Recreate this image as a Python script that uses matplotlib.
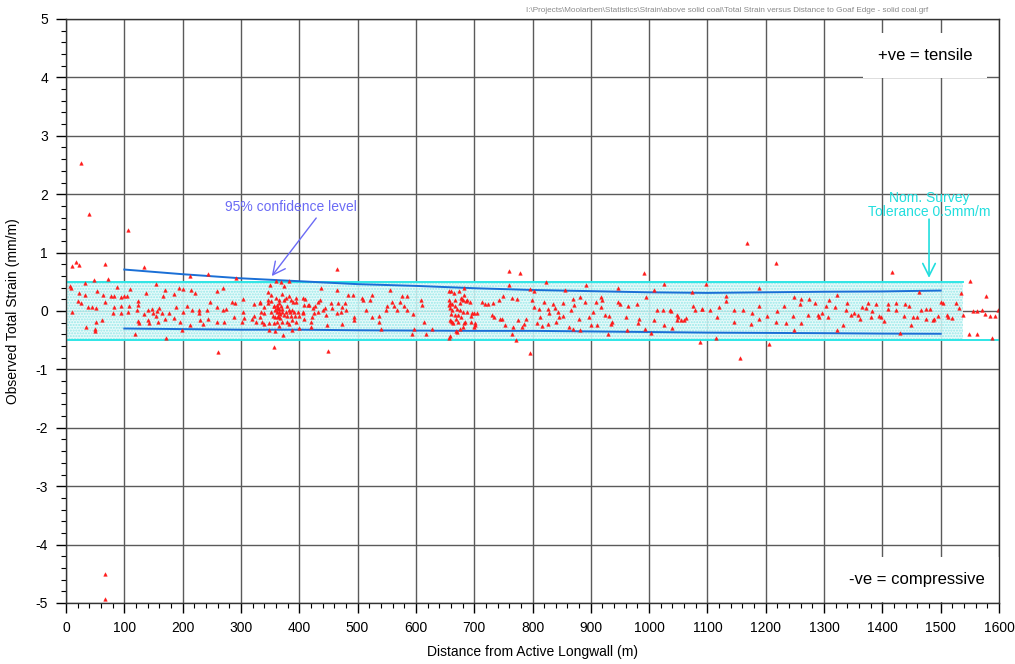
import numpy as np
import matplotlib
matplotlib.use("Agg")
import matplotlib.pyplot as plt
from matplotlib.ticker import MultipleLocator

plt.rcParams['font.family'] = ['Liberation Sans', 'DejaVu Sans']
plt.rcParams['axes.unicode_minus'] = False

# Observed strain (distance from active longwall in m, total strain in mm/m)
observations = [
    (7, 0.43), (8, 0.39), (10, 0.77), (10, -0.01), (18, 0.84), (22, 0.79), (23, 0.31), (21, 0.17),
    (25, 2.53), (25, 0.13), (32, 0.48), (33, 0.28), (34, -0.27), (38, 0.07), (39, 1.66), (45, 0.07),
    (48, 0.53), (49, -0.31), (49, -0.35), (51, 0.05), (51, -0.18), (53, 0.35), (61, -0.16), (63, 0.28),
    (67, 0.81), (67, 0.15), (67.5, -4.51), (67.5, -4.94), (72, 0.55), (78, 0.26), (81, -0.03), (82, 0.26),
    (82, 0.07), (88, 0.41), (94, 0.08), (95, 0.24), (95, -0.03), (99, 0.25), (107, -0.02), (107, 1.38),
    (108, 0.08), (110, 0.38), (105, 0.25),
    (119, -0.39), (122, 0.02), (123, 0.17), (123, 0.10), (124, -0.17), (126, -0.21), (133, 0.76),
    (134, -0.05), (138, 0.31), (140, -0.16), (140, 0.02), (142, -0.20), (147, 0.03), (150, -0.04),
    (154, 0.47), (154, -0.09), (156, 0.0), (157, -0.18), (160, 0.05), (165, -0.04), (167, 0.25),
    (169, 0.36), (170, -0.13), (171, -0.46), (177, -0.04), (186, 0.29), (186, -0.12), (188, 0.06),
    (193, 0.39), (196, -0.18), (199, -0.32), (200, 0.38), (200, -0.02), (207, 0.08), (212, -0.24),
    (213, 0.60), (214, 0.36), (216, 0.01), (221, 0.31), (228, 0.01), (228, -0.04), (229, -0.16),
    (235, -0.23), (242, 0.01), (243, 0.64), (243, -0.13), (247, 0.16), (259, 0.35), (259, 0.06),
    (259, -0.18), (260, -0.71), (269, 0.01), (270, 0.39), (271, -0.18), (275, 0.04), (285, 0.15),
    (288, -0.11), (289, 0.13), (292, 0.56), (302, -0.18), (303, 0.20), (303, -0.02), (306, -0.12),
    (319, -0.13), (322, 0.12), (322, -0.08), (326, -0.18), (332, 0.13), (333, -0.10), (339, 0.06),
    (339, -0.04),
    (332, 0.15), (334, -0.01), (336, -0.18), (340, -0.22), (346, 0.18), (347, 0.32), (347, 0.13),
    (348, -0.21), (348, -0.32), (349, 0.45), (351, 0.28), (351, 0.17), (351, -0.02), (355, -0.09),
    (356, 0.09), (357, 0.08), (357, -0.21), (357, -0.62), (359, 0.01), (359, -0.10), (359, -0.35),
    (360, 0.51), (360, 0.22), (361, 0.11), (361, -0.02), (362, -0.19), (362, 0.05), (363, 0.05),
    (363, -0.09), (364, -0.10), (365, 0.18), (365, -0.01), (365, -0.25), (366, 0.14), (366, 0.03),
    (367, -0.05), (367, -0.12), (369, 0.49), (369, 0.08), (370, -0.02), (370, 0.29), (371, 0.03),
    (371, -0.19), (372, -0.41), (373, 0.42), (374, 0.19), (374, -0.06), (377, -0.01), (378, 0.22),
    (379, -0.08), (379, -0.18), (379, 0.08), (382, 0.51), (382, 0.26), (382, 0.01), (382, -0.22),
    (384, -0.01), (385, 0.18), (385, -0.09), (387, -0.33), (388, 0.02), (388, -0.16), (390, 0.15),
    (391, -0.02), (393, -0.09), (394, 0.22), (395, 0.15), (395, -0.19), (397, -0.01), (399, -0.09),
    (399, -0.29), (406, -0.01),
    (407, -0.04), (408, -0.13), (410, 0.21), (416, 0.10), (422, -0.10), (425, -0.04), (433, 0.16),
    (433, -0.01), (407, 0.22), (408, 0.10), (415, 0.10), (421, -0.18), (421, -0.28), (424, 0.05),
    (427, 0.08), (435, 0.19), (437, 0.39), (441, 0.02), (445, 0.05), (446, -0.07), (447, -0.24),
    (450, -0.68), (455, 0.14), (457, 0.05), (464, 0.72), (464, 0.36), (464, -0.03), (467, 0.13),
    (472, -0.01), (474, 0.06), (474, -0.23), (479, 0.13), (481, 0.02), (484, 0.28), (493, 0.28),
    (494, -0.10), (494, -0.16), (507, 0.22), (510, 0.18), (515, 0.02), (521, 0.18), (525, 0.27),
    (525, -0.10), (537, -0.09), (537, -0.18), (540, -0.30), (548, 0.02), (551, 0.08), (555, 0.36),
    (559, 0.16), (562, 0.09), (567, 0.02), (573, 0.16), (576, 0.25), (580, 0.08), (585, 0.26),
    (585, 0.01), (594, -0.40), (595, -0.05), (597, -0.30), (608, 0.18), (610, 0.10), (614, -0.18),
    (618, -0.40), (628, -0.31),
    (656, -0.46), (656, 0.10), (657, 0.34), (657, 0.18), (658, 0.14), (658, 0.05), (658, -0.15),
    (659, -0.43), (661, 0.35), (661, -0.05), (661, -0.17), (662, 0.12), (662, 0.02), (662, -0.18),
    (663, -0.21), (665, 0.31), (667, 0.09), (667, -0.06), (667, 0.19), (668, -0.14), (669, -0.35),
    (671, 0.03), (671, -0.36), (672, -0.06), (673, -0.19), (674, 0.35), (675, 0.01), (675, -0.31),
    (676, 0.13), (677, 0.22), (677, -0.10), (679, 0.20), (681, 0.18), (681, -0.02), (681, -0.27),
    (682, 0.28), (683, 0.39), (683, -0.21), (684, -0.18), (686, 0.17), (687, -0.01), (688, 0.19),
    (693, 0.16), (694, -0.08), (695, -0.19), (697, -0.03), (699, -0.04), (699, -0.28), (701, -0.21),
    (702, -0.24), (705, -0.03),
    (714, 0.16), (718, 0.12), (724, 0.12), (731, -0.07), (733, 0.13), (734, -0.10), (743, 0.19),
    (745, -0.13), (747, -0.14), (749, 0.26), (753, -0.24), (759, 0.69), (760, 0.45), (764, 0.22),
    (764, -0.40), (767, -0.28), (772, -0.50), (773, 0.20), (775, -0.16), (778, 0.65), (782, -0.28),
    (786, -0.23), (789, -0.13), (795, -0.72), (796, 0.38),
    (802, 0.35), (799, 0.18), (803, 0.06), (808, -0.20), (811, 0.03), (813, -0.11), (816, -0.26),
    (819, 0.16), (823, 0.49), (826, 0.03), (827, -0.23), (829, -0.03), (836, 0.12), (839, 0.05),
    (840, -0.18), (843, -0.01), (845, -0.11), (853, 0.14), (853, -0.09), (856, 0.36), (862, -0.27),
    (866, 0.02), (869, 0.20), (870, -0.31), (871, 0.10), (879, -0.13), (881, -0.33), (882, 0.24),
    (890, 0.16), (892, 0.45), (897, -0.10), (900, -0.24), (903, -0.01), (909, 0.16), (911, -0.24),
    (918, 0.24), (918, 0.06), (920, 0.19), (924, -0.07), (929, -0.39), (932, -0.09), (935, -0.23),
    (937, -0.18), (946, 0.39), (947, 0.16), (950, 0.12), (961, -0.10), (962, -0.33), (964, 0.09),
    (979, 0.12), (981, -0.21), (982, -0.14), (992, 0.65), (993, -0.30), (994, 0.24), (1003, -0.38),
    (1008, -0.16), (1009, 0.36), (1014, 0.02), (1023, 0.01), (1025, 0.46), (1026, -0.24), (1036, 0.02),
    (1038, 0.0), (1039, -0.29), (1047, -0.16), (1048, -0.07), (1050, -0.11), (1054, -0.16),
    (1060, -0.16), (1064, -0.12), (1074, 0.32), (1075, 0.08), (1078, 0.01), (1087, -0.53), (1090, 0.03),
    (1091, 0.03), (1098, 0.46), (1104, 0.02), (1115, -0.46), (1117, -0.10), (1119, 0.06),
    (1132, 0.26), (1132, 0.17), (1146, 0.02), (1146, -0.18), (1156, -0.80), (1161, 0.01), (1167, 1.17),
    (1174, -0.23), (1176, -0.03), (1189, 0.40), (1189, 0.09), (1189, -0.13), (1203, -0.08),
    (1205, -0.56), (1218, 0.83), (1218, -0.18), (1219, 0.0), (1231, 0.09), (1234, -0.20), (1246, -0.09),
    (1249, 0.24), (1249, -0.33), (1259, 0.12), (1261, 0.21), (1261, -0.20), (1273, -0.06), (1275, 0.21),
    (1284, 0.13), (1289, -0.07), (1291, -0.10), (1297, -0.03), (1303, 0.08), (1306, -0.11),
    (1309, 0.19), (1318, 0.06), (1322, 0.27), (1322, -0.32), (1332, -0.24), (1337, 0.02), (1339, 0.14),
    (1347, -0.07), (1351, -0.03), (1358, -0.06), (1361, -0.14), (1365, 0.06), (1372, 0.05),
    (1375, 0.13), (1380, -0.11), (1383, 0.0), (1389, 0.12), (1395, -0.08), (1397, -0.10),
    (1403, -0.17), (1409, 0.12), (1410, 0.03), (1417, 0.66), (1423, 0.01), (1424, 0.13), (1430, -0.38),
    (1437, -0.08), (1438, 0.12), (1445, 0.09), (1449, -0.24), (1452, -0.11), (1460, -0.10),
    (1462, 0.32), (1467, 0.02), (1474, 0.03), (1474, -0.13), (1481, 0.03), (1487, -0.16),
    (1489, -0.13), (1495, -0.09), (1500, 0.15), (1504, 0.13), (1510, -0.06), (1513, -0.10),
    (1519, -0.12), (1526, 0.13), (1532, 0.05), (1534, 0.31), (1539, -0.06), (1548, -0.40), (1550, 0.51),
    (1555, 0.0), (1563, 0.0), (1563, -0.40), (1570, 0.02), (1576, -0.05), (1577, 0.25), (1584, -0.08),
    (1588, -0.46), (1593, -0.08), (1599, 0.02),
]

# 95% confidence envelope
conf_x = [100, 200, 300, 400, 500, 600, 700, 800, 900, 1000, 1100, 1200, 1300, 1400, 1500]
conf_upper = [0.71, 0.63, 0.56, 0.51, 0.46, 0.43, 0.39, 0.36, 0.34, 0.32, 0.31, 0.32, 0.33, 0.335, 0.35]
conf_lower = [-0.30, -0.31, -0.32, -0.32, -0.33, -0.335, -0.34, -0.34, -0.35, -0.36, -0.37, -0.375, -0.38, -0.387, -0.39]

# Nominal survey tolerance band (mm/m)
tol_limit = 0.5
tol_band_end = 1538

file_path = (r"I:\Projects\Moolarben\Statistics\Strain\above solid coal"
             r"\Total Strain versus Distance to Goaf Edge - solid coal.grf")

dist, strain = np.array(observations).T

fig = plt.figure(figsize=(10.15, 6.64), dpi=100)
ax = fig.add_axes([66 / 1015, 61 / 664, 933 / 1015, 584 / 664])

ax.set_xlim(0, 1600)
ax.set_ylim(-5, 5)
ax.xaxis.set_major_locator(MultipleLocator(100))
ax.xaxis.set_minor_locator(MultipleLocator(20))
ax.yaxis.set_major_locator(MultipleLocator(1))
ax.yaxis.set_minor_locator(MultipleLocator(0.2))
ax.tick_params(which='major', length=7, width=1, direction='out', labelsize=10, pad=6)
ax.tick_params(which='minor', length=3.5, width=0.8, direction='out')
ax.grid(True, which='major', color='#5a5a5a', linewidth=1.0, zorder=0)
ax.set_axisbelow(True)
for s in ax.spines.values():
    s.set_linewidth(1.0)
    s.set_color('#333333')
    s.set_zorder(7)

# tolerance band
ax.fill_between([0, tol_band_end], -tol_limit, tol_limit, facecolor='#e4fafa',
                edgecolor='#8ae6e6', hatch='......', linewidth=0, alpha=0.85, zorder=1)
ax.plot([0, tol_band_end], [tol_limit, tol_limit], color='#2fe6e6', lw=1.4, zorder=2)
ax.plot([0, 1600], [-tol_limit, -tol_limit], color='#2fe6e6', lw=1.4, zorder=2)

# confidence lines
ax.plot(conf_x, conf_upper, color='#1a6fd6', lw=1.4, zorder=3)
ax.plot(conf_x, conf_lower, color='#1a6fd6', lw=1.4, zorder=3)

# observations
ax.plot(dist, strain, linestyle='none', marker='^', markersize=2.6,
        color='#ff1a1a', markeredgewidth=0.3, zorder=4)

# annotations
ax.text(386, 1.78, "95% confidence level", color='#6b6bf5', fontsize=10,
        ha='center', va='center', zorder=5)
ax.annotate("", xy=(350, 0.56), xytext=(432, 1.63),
            arrowprops=dict(arrowstyle='->,head_length=0.9,head_width=0.45',
                            color='#6b6bf5', lw=1.0), zorder=5)

ax.text(1480, 1.81, "Nom. Survey\nTolerance 0.5mm/m", color='#22dede', fontsize=10,
        ha='center', va='center', linespacing=1.0, zorder=5)
ax.annotate("", xy=(1480, 0.52), xytext=(1480, 1.62),
            arrowprops=dict(arrowstyle='->,head_length=0.9,head_width=0.45',
                            color='#22dede', lw=1.2), zorder=5)

ax.text(1473, 4.38, "+ve = tensile", fontsize=12, ha='center', va='center', zorder=6,
        bbox=dict(boxstyle='square,pad=0.9', facecolor='white', edgecolor='none'))
ax.text(1460, -4.6, "-ve = compressive", fontsize=12, ha='center', va='center', zorder=6,
        bbox=dict(boxstyle='square,pad=0.9', facecolor='white', edgecolor='none'))

ax.set_xlabel("Distance from Active Longwall (m)", fontsize=10, labelpad=7)
ax.set_ylabel("Observed Total Strain (mm/m)", fontsize=10, labelpad=11)

fig.text(727 / 1015, 1 - 10 / 664, file_path, fontsize=5.9, color='#8a8a8a',
         ha='center', va='center')

fig.savefig("out.png", dpi=100)
